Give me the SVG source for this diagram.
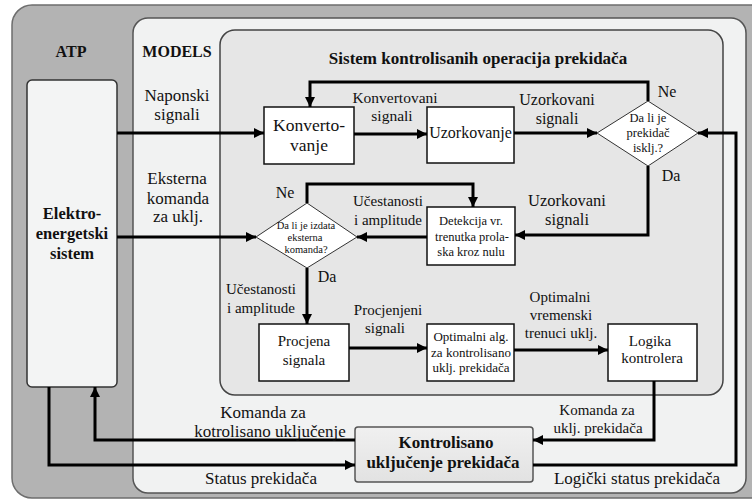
<svg xmlns="http://www.w3.org/2000/svg" width="752" height="500" viewBox="0 0 752 500">
  <style>
    text { font-family: "Liberation Serif", "DejaVu Serif", "Times New Roman", serif; }
    .t { fill: #111; text-anchor: middle; }
    .b { font-weight: bold; }
    .box { fill: #ffffff; stroke: #111; stroke-width: 1.5; }
    .dia { fill: #ffffff; stroke: #333; stroke-width: 1; }
    .wire { fill: none; stroke: #000; stroke-width: 3; }
    .arr { marker-end: url(#ah); }
  </style>
  <defs>
    <marker id="ah" viewBox="0 0 10 10" refX="10" refY="5" markerWidth="12" markerHeight="10" markerUnits="userSpaceOnUse" orient="auto">
      <path d="M0,0 L10,5 L0,10 z" fill="#000"/>
    </marker>
    <linearGradient id="kg" x1="0" y1="0" x2="0" y2="1">
      <stop offset="0" stop-color="#f0f0f0"/>
      <stop offset="1" stop-color="#e2e2e2"/>
    </linearGradient>
  </defs>

  <rect width="752" height="500" fill="#ffffff"/>

  <!-- panels -->
  <g id="atp">
    <rect x="12" y="5" width="770" height="493" rx="20" fill="#b3b3b3" stroke="#6e6e6e" stroke-width="1.5"/>
    <text class="t b" x="71" y="57" font-size="16">ATP</text>
  </g>
  <g id="models">
    <rect x="133" y="18" width="613" height="475" rx="15" fill="#f1f2f2" stroke="#555" stroke-width="1.5"/>
    <text class="t b" x="177" y="57" font-size="16">MODELS</text>
  </g>
  <g id="sistem">
    <rect x="220" y="30" width="503" height="365" rx="15" fill="#e6e6e6" stroke="#444" stroke-width="1.5"/>
    <text class="t b" x="478" y="64" font-size="17">Sistem kontrolisanih operacija prekidača</text>
  </g>

  <!-- nodes -->
  <g id="elektro">
    <rect x="27" y="80" width="90" height="307" rx="5" fill="#f3f4f4" stroke="#333" stroke-width="1.5"/>
    <text class="t b" x="72" y="219" font-size="16.5">Elektro-</text>
    <text class="t b" x="72" y="239" font-size="16.5">energetski</text>
    <text class="t b" x="72" y="259" font-size="16.5">sistem</text>
  </g>
  <g id="konvertovanje">
    <rect class="box" x="264" y="107" width="90" height="57"/>
    <text class="t" x="309" y="131" font-size="17.5">Konverto-</text>
    <text class="t" x="309" y="151" font-size="17.5">vanje</text>
  </g>
  <g id="uzorkovanje">
    <rect class="box" x="427" y="107" width="87" height="56"/>
    <text class="t" x="470.5" y="138" font-size="16">Uzorkovanje</text>
  </g>
  <g id="dec-iskljucen">
    <polygon class="dia" points="648,101 698,133 648,166 597,133"/>
    <text class="t" x="648" y="122" font-size="12.5">Da li je</text>
    <text class="t" x="648" y="137" font-size="12.5">prekidač</text>
    <text class="t" x="648" y="152" font-size="12.5">isklj.?</text>
  </g>
  <g id="detekcija">
    <rect class="box" x="427" y="207" width="88" height="58"/>
    <text class="t" x="471" y="225" font-size="12.5">Detekcija vr.</text>
    <text class="t" x="472" y="241" font-size="12.5">trenutka prola-</text>
    <text class="t" x="471" y="256" font-size="12.5">ska kroz nulu</text>
  </g>
  <g id="dec-eksterna">
    <polygon class="dia" points="307,203 357,237 307,268 256,237"/>
    <text class="t" x="306" y="229" font-size="10.5">Da li je izdata</text>
    <text class="t" x="305" y="241" font-size="10.5">eksterna</text>
    <text class="t" x="306" y="253" font-size="10.5">komanda?</text>
  </g>
  <g id="procjena">
    <rect class="box" x="259" y="324" width="90" height="57"/>
    <text class="t" x="304" y="346" font-size="15">Procjena</text>
    <text class="t" x="304" y="365" font-size="15">signala</text>
  </g>
  <g id="optimalni">
    <rect class="box" x="427" y="324" width="87" height="57"/>
    <text class="t" x="471" y="341" font-size="13">Optimalni alg.</text>
    <text class="t" x="471" y="357" font-size="13">za kontrolisano</text>
    <text class="t" x="471" y="372" font-size="13">uklj. prekidača</text>
  </g>
  <g id="logika">
    <rect class="box" x="608" y="324" width="89" height="57"/>
    <text class="t" x="650" y="346" font-size="15">Logika</text>
    <text class="t" x="652" y="363" font-size="15">kontrolera</text>
  </g>
  <g id="kontrolisano">
    <rect x="355" y="427" width="178" height="55" rx="3" fill="url(#kg)" stroke="#555" stroke-width="1.5"/>
    <text class="t b" x="446" y="448" font-size="17">Kontrolisano</text>
    <text class="t b" x="443" y="468" font-size="17">uključenje prekidača</text>
  </g>

  <!-- connectors -->
  <g id="connectors">
    <path class="wire arr" d="M117,133 H264"/>
    <path class="wire arr" d="M354,134 H427"/>
    <path class="wire arr" d="M514,133 H597"/>
    <path class="wire arr" d="M648,101 V82 H310 V107"/>
    <path class="wire arr" d="M648,166 V235 H515"/>
    <path class="wire arr" d="M533,465 H736 V133 H698"/>
    <path class="wire arr" d="M427,237 H357"/>
    <path class="wire arr" d="M307,203 V184 H473 V207"/>
    <path class="wire arr" d="M117,237 H256"/>
    <path class="wire arr" d="M307,268 V324"/>
    <path class="wire arr" d="M349,348 H427"/>
    <path class="wire arr" d="M514,350 H608"/>
    <path class="wire arr" d="M654,381 V440 H533"/>
    <path class="wire arr" d="M355,440 H95 V387"/>
    <path class="wire arr" d="M49,387 V465 H355"/>
  </g>

  <!-- connector labels -->
  <g id="labels">
    <text class="t" x="177" y="101" font-size="17">Naponski</text>
    <text class="t" x="177" y="120" font-size="17">signali</text>
    <text class="t" x="395" y="103" font-size="15.5">Konvertovani</text>
    <text class="t" x="392" y="121" font-size="15.5">signali</text>
    <text class="t" x="557" y="105" font-size="16">Uzorkovani</text>
    <text class="t" x="557" y="124" font-size="16">signali</text>
    <text class="t" x="667" y="97" font-size="16">Ne</text>
    <text class="t" x="671" y="181" font-size="16">Da</text>
    <text class="t" x="567" y="206" font-size="16.5">Uzorkovani</text>
    <text class="t" x="567" y="225" font-size="16.5">signali</text>
    <text class="t" x="177" y="184" font-size="17">Eksterna</text>
    <text class="t" x="178" y="204" font-size="17">komanda</text>
    <text class="t" x="178" y="222" font-size="17">za uklj.</text>
    <text class="t" x="285" y="198" font-size="16">Ne</text>
    <text class="t" x="388" y="206" font-size="15">Učestanosti</text>
    <text class="t" x="388" y="225" font-size="15">i amplitude</text>
    <text class="t" x="327" y="282" font-size="16">Da</text>
    <text class="t" x="261" y="294" font-size="15">Učestanosti</text>
    <text class="t" x="261" y="313" font-size="15">i amplitude</text>
    <text class="t" x="388" y="315" font-size="15">Procjenjeni</text>
    <text class="t" x="385" y="333" font-size="15">signali</text>
    <text class="t" x="560" y="302" font-size="15">Optimalni</text>
    <text class="t" x="561" y="320" font-size="15">vremenski</text>
    <text class="t" x="561" y="338" font-size="15">trenuci uklj.</text>
    <text class="t" x="597" y="415" font-size="15">Komanda za</text>
    <text class="t" x="598" y="433" font-size="15">uklj. prekidača</text>
    <text class="t" x="263" y="418" font-size="17">Komanda za</text>
    <text class="t" x="270" y="437" font-size="17">kotrolisano uključenje</text>
    <text class="t" x="261" y="484" font-size="17">Status prekidača</text>
    <text class="t" x="637" y="484" font-size="17">Logički status prekidača</text>
  </g>
</svg>
